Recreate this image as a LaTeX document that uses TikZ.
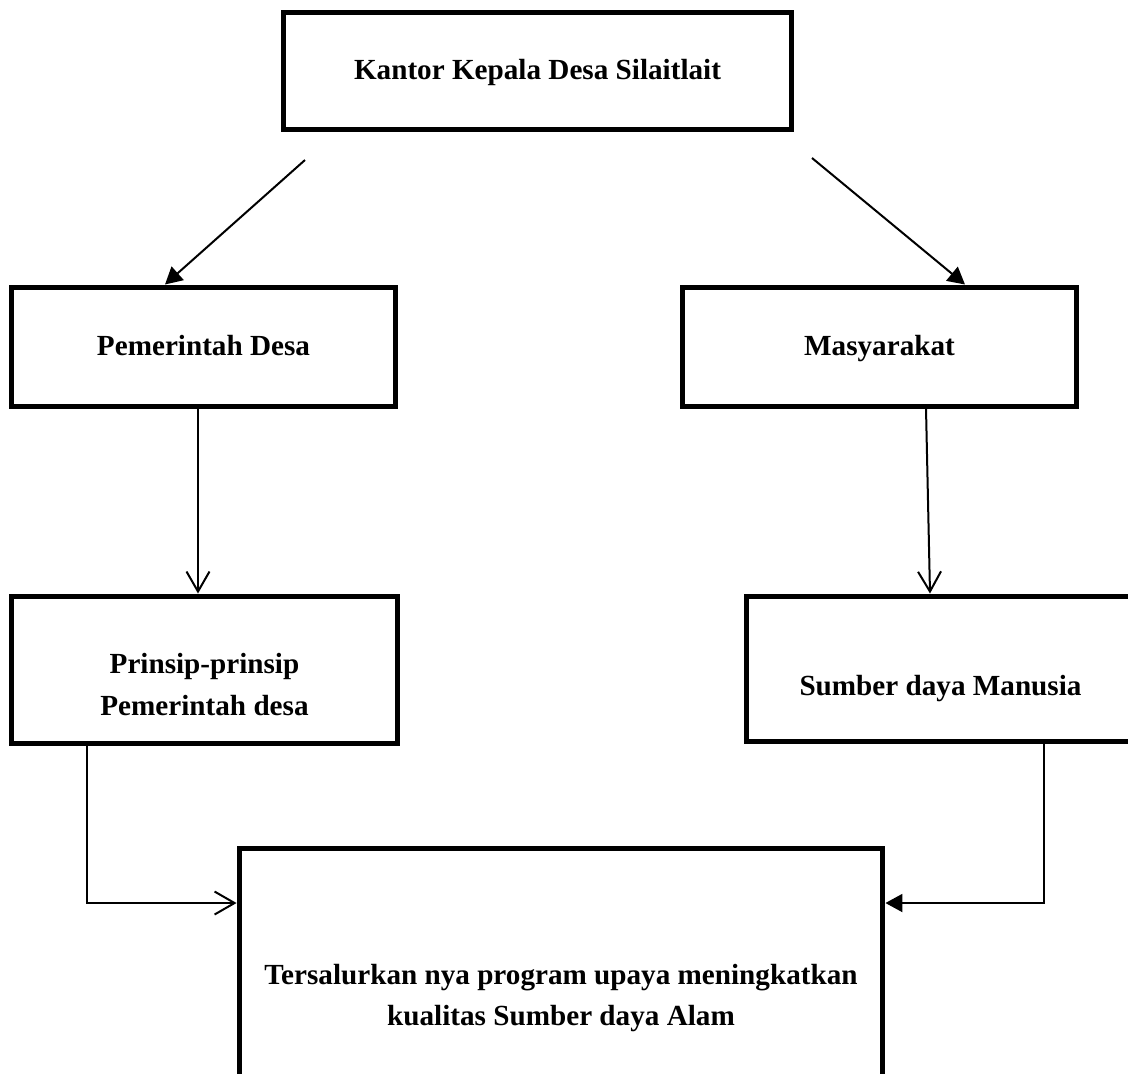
\documentclass[tikz,border=0pt]{standalone}
\usepackage{fontspec}
\setmainfont{Liberation Serif}
\usetikzlibrary{arrows.meta}
\tikzstyle{kotak} = [rectangle, draw=black, line width=0.1cm, align=center, font=\bfseries\fontsize{16.6}{23.5}\selectfont, inner sep=0pt]
\tikzstyle{panah} = [line width=0.04cm, -{Triangle[length=0.34cm, width=0.36cm]}]
\tikzstyle{panahbuka} = [line width=0.04cm, -{Straight Barb[length=0.4cm, width=0.46cm, line width=0.04cm]}]
\newcommand{\tinggi}[1]{\rule[-0.12cm]{0pt}{#1}}

\begin{document}
\begin{tikzpicture}[x=0.02cm, y=-0.02cm]
        \useasboundingbox (0,0) rectangle (1128,1073);
        \clip (0,0) rectangle (1128,1073);
        \node (kantor) [kotak, minimum width=10.18cm, minimum height=2.36cm] at (537.5,71) {\tinggi{0.6cm}Kantor Kepala Desa Silaitlait};
        \node (pemdes) [kotak, minimum width=7.7cm, minimum height=2.38cm] at (203.5,346.5) {\tinggi{0.6cm}Pemerintah Desa};
        \node (masy) [kotak, minimum width=7.9cm, minimum height=2.38cm] at (879.5,346.5) {\tinggi{0.6cm}Masyarakat};
        \node (prinsip) [kotak, minimum width=7.74cm, minimum height=2.94cm] at (204.5,669.5) {\rule{0pt}{1.0cm}Prinsip-prinsip\\Pemerintah desa};
        \node (sdm) [kotak, minimum width=7.78cm, minimum height=2.9cm] at (940.5,668.5) {\rule{0pt}{1.2cm}Sumber daya Manusia};
        \node (hasil) [kotak, minimum width=12.88cm, minimum height=4.8cm] at (561,968) {\rule{0pt}{1.6cm}Tersalurkan nya program upaya meningkatkan\\kualitas Sumber daya Alam};

        \coordinate (kirikantor) at (305,160);
        \coordinate (kanankantor) at (812,158);

        \draw [panah] (kirikantor) -- (pemdes.north -| 165,0);
        \draw [panah] (kanankantor) -- (masy.north -| 965,0);
        \draw [panahbuka] (pemdes.south -| 198,0) -- (prinsip.north -| 198,0);
        \draw [panahbuka] (masy.south -| 926,0) -- (sdm.north -| 930,0);
        \draw [panahbuka] (prinsip.south -| 87,0) |- (hasil.west |- 0,903);
        \draw [panah] (sdm.south -| 1044,0) |- (hasil.east |- 0,903);
    \end{tikzpicture}
\end{document}
